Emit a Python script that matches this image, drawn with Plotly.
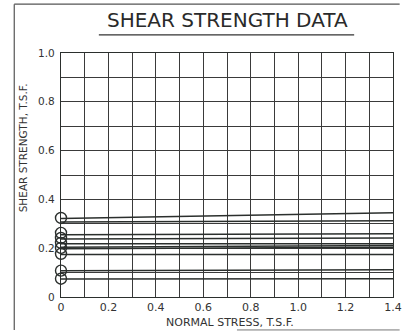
import plotly.graph_objects as go

# ---- data ----
stress_range = [0.0, 1.4]
line_start = [0.322, 0.307, 0.255, 0.238, 0.218, 0.204, 0.198, 0.174, 0.108, 0.074]
line_end = [0.345, 0.313, 0.259, 0.242, 0.218, 0.211, 0.204, 0.174, 0.112, 0.075]
circle_c = [0.324, 0.263, 0.242, 0.222, 0.201, 0.177, 0.108, 0.075]
x_ticks = [0, 0.2, 0.4, 0.6, 0.8, 1.0, 1.2, 1.4]
x_labels = ["0", "0.2", "0.4", "0.6", "0.8", "1.0", "1.2", "1.4"]
y_ticks = [0, 0.2, 0.4, 0.6, 0.8, 1.0]
y_labels = ["0", "0.2", "0.4", "0.6", "0.8", "1.0"]

INK = "#2b2f2d"
FONT = "DejaVu Sans"

fig = go.Figure()
for s, e in zip(line_start, line_end):
    fig.add_trace(go.Scatter(
        x=stress_range, y=[s, e], mode="lines",
        line=dict(color=INK, width=1.5), showlegend=False, hoverinfo="skip"))

fig.add_trace(go.Scatter(
    x=[0] * len(circle_c), y=circle_c, mode="markers",
    marker=dict(symbol="circle-open", size=11, color=INK, line=dict(width=1.4, color=INK)),
    cliponaxis=False, showlegend=False, hoverinfo="skip"))

axis_common = dict(
    showline=True, linecolor=INK, linewidth=1.4, mirror=True,
    showgrid=True, gridcolor="#3a3a3a", gridwidth=1.1,
    zeroline=False, ticks="",
    minor=dict(dtick=0.1, showgrid=True, gridcolor="#3a3a3a", gridwidth=1.1),
)

fig.update_xaxes(range=[0, 1.4], tickvals=x_ticks, ticktext=x_labels,
                 tickfont=dict(family=FONT, size=11, color="#333"), **axis_common)
fig.update_yaxes(range=[0, 1.0], tickvals=y_ticks, ticktext=y_labels,
                 tickfont=dict(family=FONT, size=10.5, color="#333"),
                 ticklabelstandoff=3, **axis_common)

fig.update_layout(
    width=412, height=332,
    margin=dict(l=61, r=10, t=53, b=35),
    paper_bgcolor="white", plot_bgcolor="white",
    font=dict(family=FONT, color="#333"),
    annotations=[
        dict(text="SHEAR STRENGTH DATA", xref="paper", yref="paper", x=0.5, y=1.135,
             xanchor="center", yanchor="middle", showarrow=False,
             font=dict(family=FONT, size=20, color="#2a2a2a")),
        dict(text="NORMAL STRESS, T.S.F.", xref="paper", yref="paper", x=0.51, y=-0.1025,
             xanchor="center", yanchor="middle", showarrow=False,
             font=dict(family=FONT, size=11, color="#333")),
        dict(text="SHEAR STRENGTH, T.S.F.", xref="paper", yref="paper", x=-0.114, y=0.61,
             xanchor="center", yanchor="middle", showarrow=False, textangle=-90,
             font=dict(family=FONT, size=10.5, color="#333")),
    ],
    shapes=[
        dict(type="line", xref="paper", yref="paper", x0=0.114, x1=0.883, y0=1.074, y1=1.074,
             line=dict(color="#333", width=1.2)),
        dict(type="line", xref="paper", yref="paper", x0=-0.1408, x1=-0.1408, y0=1.2, y1=-0.135,
             line=dict(color="#555", width=1.2)),
        dict(type="line", xref="paper", yref="paper", x0=-0.1408, x1=1.02, y0=1.2, y1=1.2,
             line=dict(color="#555", width=1.2)),
        dict(type="line", xref="paper", yref="paper", x0=0.53, x1=1.02, y0=-0.135, y1=-0.135,
             line=dict(color="#777", width=1)),
    ],
)

fig.write_html(
    "out.html",
    config={"displayModeBar": False},
    post_script="document.body.style.margin='0';document.body.style.overflow='hidden';",
)
